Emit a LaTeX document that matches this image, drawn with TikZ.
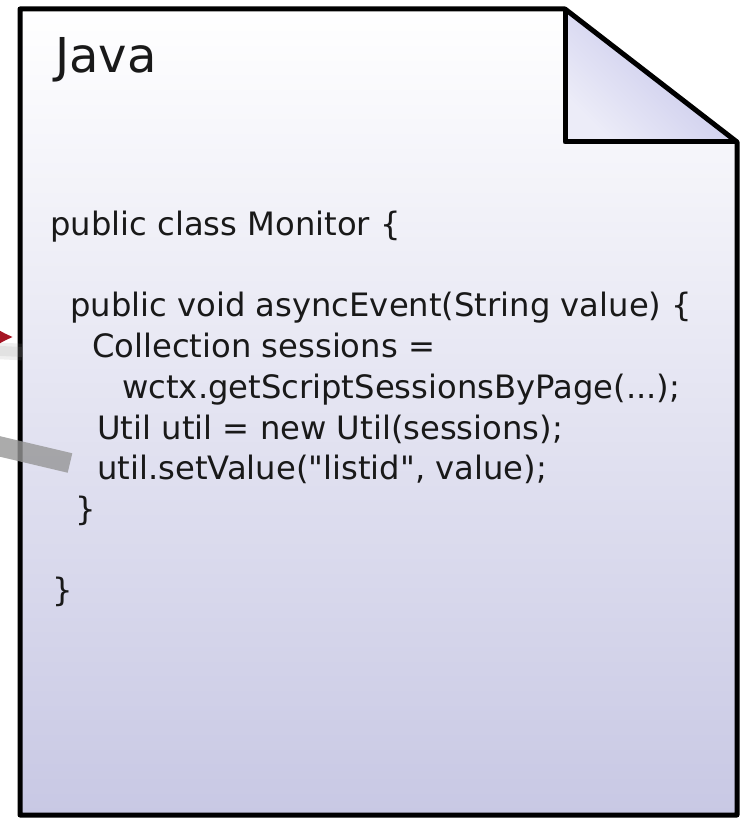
\documentclass[tikz,border=0pt]{standalone}
\usepackage{fontspec}
\setmainfont{DejaVu Sans}[Ligatures = TeXOff]
\usetikzlibrary{arrows.meta}

\definecolor{pagelav}{RGB}{200,200,228}
\definecolor{foldlav}{RGB}{192,192,232}
\definecolor{arrowred}{RGB}{165,20,35}
\definecolor{linkgray}{RGB}{150,150,150}
\definecolor{codegray}{RGB}{25,25,25}

\tikzset{
    code/.style = {anchor = base west, inner sep = 0pt, text = codegray, font = \fontsize{27.5}{28}\selectfont},
    title/.style = {anchor = base west, inner sep = 0pt, text = codegray, font = \fontsize{41}{41}\selectfont}
}

\begin{document}
\begin{tikzpicture}[x = 0.03cm, y = -0.03cm, line join = round]
            \useasboundingbox (0,0) rectangle (742,818);

            % Page with folded corner
            \shade [top color = white, bottom color = pagelav] (20,9) -- (565,9) -- (737,142) -- (737,815) -- (20,815) -- cycle;
            \shade [top color = foldlav, middle color = foldlav, bottom color = foldlav!30!white, shading angle = -45] (565,9) -- (737,142) -- (565,142) -- cycle;
            \draw [line width = 0.15cm] (20,9) -- (565,9) -- (737,142) -- (737,815) -- (20,815) -- cycle;
            \draw [line width = 0.15cm] (565,9) -- (565,142) -- (737,142);

            % Title
            \node [title] (java) at (55,73) {Java};

            % Source lines
            \node [code] (cls) at (50,235) {public class Monitor \{};
            \node [code] (meth) at (70,316) {public void asyncEvent(String value) \{};
            \node [code] (coll) at (92,357) {Collection sessions =};
            \node [code] (wctx) at (122,398) {wctx.getScriptSessionsByPage(...);};
            \node [code] (util) at (97,439) {Util util = new Util(sessions);};
            \node [code] (setv) at (97,479) {util.setValue("listid", value);};
            \node [code] (methend) at (75,520) {\}};
            \node [code] (clsend) at (52,601) {\}};

            % Incoming arrows from the left
            \coordinate (shadowtail) at (-20,350);
            \coordinate (shadowend) at (22,352);
            \draw [linkgray, opacity = 0.15, line width = 0.5cm] (shadowtail) -- (shadowend);
            \draw [linkgray, opacity = 0.15, line width = 0.3cm] (shadowtail) -- (shadowend);

            \coordinate (redtail) at (-60,337);
            \coordinate (redtip) at (13,337);
            \draw [arrowred, line width = 0.18cm, -{Latex[length = 0.75cm, width = 0.95cm]}] (redtail) -- (redtip);

            \coordinate (graytail) at (-40,437);
            \coordinate (grayend) at (70,463);
            \draw [linkgray, opacity = 0.8, line width = 0.6cm] (graytail) -- (grayend);

\end{tikzpicture}
\end{document}
